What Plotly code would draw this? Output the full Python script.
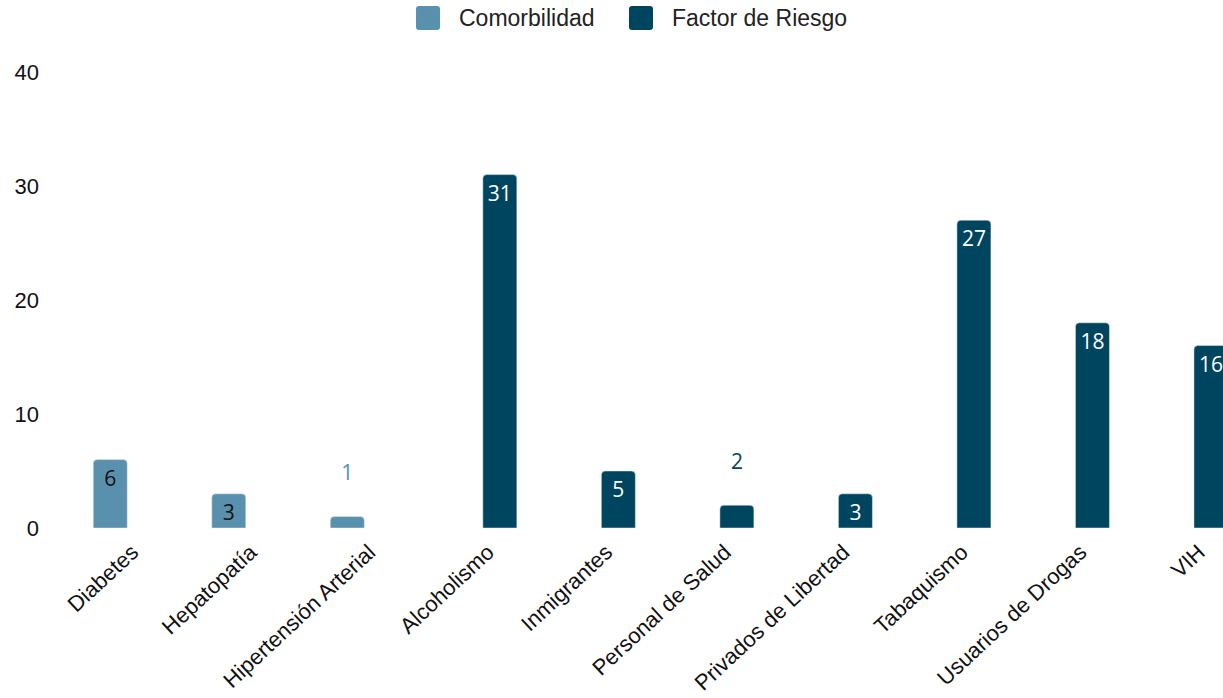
import plotly.graph_objects as go

# Categories and counts per group
comorb_cats = ["Diabetes", "Hepatopatía", "Hipertensión Arterial"]
comorb_vals = [6, 3, 1]

riesgo_cats = ["Alcoholismo", "Inmigrantes", "Personal de Salud", "Privados de Libertad",
               "Tabaquismo", "Usuarios de Drogas", "VIH"]
riesgo_vals = [31, 5, 2, 3, 27, 18, 16]

y_ticks = [0, 10, 20, 30, 40]

COL_COMORB = "#5990ae"
COL_RIESGO = "#00455f"
LABEL_FONT = "Open Sans"
AXIS_FONT = "Liberation Sans, Arial, sans-serif"
BAR_W = 0.287  # each bar's width in category units


def labels_for(vals):
    # small bars carry their label above the bar, lifted by an empty line
    return [str(v) if v >= 3 else f"{v}<br> " for v in vals]


def positions_for(vals):
    return ["inside" if v >= 3 else "outside" for v in vals]


fig = go.Figure()
fig.add_trace(go.Bar(
    name="Comorbilidad", x=comorb_cats, y=comorb_vals,
    marker_color=COL_COMORB, width=BAR_W, offset=-BAR_W,
    text=labels_for(comorb_vals), textposition=positions_for(comorb_vals),
    insidetextanchor="end", textangle=0,
    insidetextfont=dict(family=LABEL_FONT, size=21, color="#111111"),
    outsidetextfont=dict(family=LABEL_FONT, size=21, color=COL_COMORB),
    cliponaxis=True, showlegend=False,
))
fig.add_trace(go.Bar(
    name="Factor de Riesgo", x=riesgo_cats, y=riesgo_vals,
    marker_color=COL_RIESGO, width=BAR_W, offset=0,
    text=labels_for(riesgo_vals), textposition=positions_for(riesgo_vals),
    insidetextanchor="end", textangle=0,
    insidetextfont=dict(family=LABEL_FONT, size=21, color="#ffffff"),
    outsidetextfont=dict(family=LABEL_FONT, size=21, color=COL_RIESGO),
    cliponaxis=True, showlegend=False,
))

# Legend drawn as rounded swatches plus text
def swatch(xp, color):
    r = 3
    s = 12
    path = (f"M{-s + r},{-s} L{s - r},{-s} Q{s},{-s} {s},{-s + r} L{s},{s - r} Q{s},{s} {s - r},{s} "
            f"L{-s + r},{s} Q{-s},{s} {-s},{s - r} L{-s},{-s + r} Q{-s},{-s} {-s + r},{-s} Z")
    return dict(type="path", xref="paper", yref="paper", xsizemode="pixel", ysizemode="pixel",
                xanchor=xp, yanchor=1.1184, path=path, fillcolor=color, line_width=0)

legend_items = [("Comorbilidad", COL_COMORB, 0.3117, 0.3368),
                ("Factor de Riesgo", COL_RIESGO, 0.4961, 0.5212)]
shapes = []
annotations = []
for name, color, sx, tx in legend_items:
    shapes.append(swatch(sx, color))
    annotations.append(dict(text=name, xref="paper", yref="paper", x=tx, y=1.1184,
                            xanchor="left", yanchor="middle", showarrow=False,
                            font=dict(family=AXIS_FONT, size=23, color="#222222")))

fig.update_layout(
    width=1223, height=698,
    margin=dict(l=68, r=0, t=72, b=170, autoexpand=False),
    barmode="overlay",
    barcornerradius=4,
    plot_bgcolor="white", paper_bgcolor="white",
    shapes=shapes, annotations=annotations,
    showlegend=False,
)
fig.update_xaxes(
    type="category", range=[-0.5, 9.245], automargin=False,
    categoryorder="array", categoryarray=comorb_cats + riesgo_cats,
    tickangle=-43, showgrid=False, zeroline=False, showline=False, ticks="",
    ticklabelshift=5, ticklabelstandoff=6,
    tickfont=dict(family=AXIS_FONT, size=22, color="#111111"),
)
fig.update_yaxes(
    range=[0, 40], tickvals=y_ticks, showgrid=False, zeroline=False, showline=False,
    ticks="", ticklabelstandoff=28, automargin=False,
    tickfont=dict(family=AXIS_FONT, size=22, color="#111111"),
)

fig.write_html("out.html")
